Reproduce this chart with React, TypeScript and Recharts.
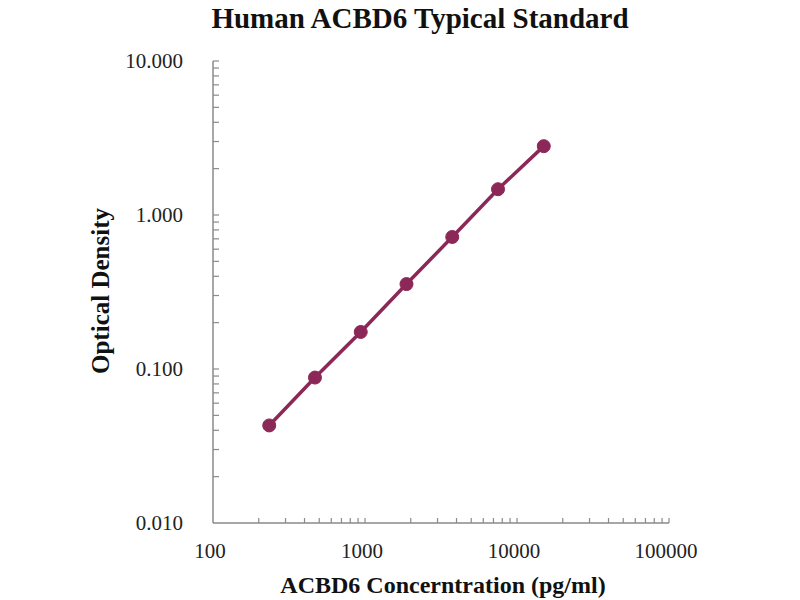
import { LineChart, Line, XAxis, YAxis } from "recharts";

const concentrations = [234.375, 468.75, 937.5, 1875, 3750, 7500, 15000];
const densities = [0.043, 0.088, 0.174, 0.356, 0.72, 1.47, 2.8];

const xTicks = [
  100, 200, 300, 400, 500, 600, 700, 800, 900,
  1000, 2000, 3000, 4000, 5000, 6000, 7000, 8000, 9000,
  10000, 20000, 30000, 40000, 50000, 60000, 70000, 80000, 90000,
  100000,
];
const xMajor = [100, 1000, 10000, 100000];

const yTicks = [
  0.01, 0.02, 0.03, 0.04, 0.05, 0.06, 0.07, 0.08, 0.09,
  0.1, 0.2, 0.3, 0.4, 0.5, 0.6, 0.7, 0.8, 0.9,
  1, 2, 3, 4, 5, 6, 7, 8, 9,
  10,
];
const yMajor = [0.01, 0.1, 1, 10];

const lineColor = "#8c2857";
const axisColor = "#8a8a8a";
const font = "'Liberation Serif', 'Times New Roman', serif";

const data = concentrations.map((c, i) => ({ conc: c, od: densities[i] }));

function XTick(props: any) {
  const { x, y, payload } = props;
  const major = xMajor.includes(payload.value);
  return (
    <g>
      {payload.value !== 100 && (
        <line x1={x} y1={y} x2={x} y2={y - 5} stroke={axisColor} strokeWidth={1.2} />
      )}
      {major && (
        <text x={x - 3} y={y + 35} textAnchor="middle" fontFamily={font} fontSize={21} fill="#222">
          {payload.value}
        </text>
      )}
    </g>
  );
}

function YTick(props: any) {
  const { x, y, payload } = props;
  const major = yMajor.includes(payload.value);
  return (
    <g>
      {payload.value !== 0.01 && (
        <line x1={x} y1={y} x2={x + 6} y2={y} stroke={axisColor} strokeWidth={1.2} />
      )}
      {major && (
        <text x={x - 30} y={y + 7} textAnchor="end" fontFamily={font} fontSize={21} fill="#222">
          {payload.value.toFixed(3)}
        </text>
      )}
    </g>
  );
}

export default function App() {
  return (
    <div style={{ position: "relative", width: 800, height: 600, margin: "-8px 0 0 -8px", background: "#fff" }}>
      <LineChart
        width={800}
        height={600}
        data={data}
        margin={{ top: 61, right: 131, left: 113, bottom: 37 }}
      >
        <text
          x={420}
          y={28}
          textAnchor="middle"
          fontFamily={font}
          fontWeight="bold"
          fontSize={29}
          fill="#111"
        >
          Human ACBD6 Typical Standard
        </text>
        <XAxis
          dataKey="conc"
          type="number"
          scale="log"
          domain={[100, 100000]}
          ticks={xTicks}
          interval={0}
          allowDataOverflow
          height={40}
          tickSize={0}
          tickMargin={0}
          tickLine={false}
          tick={<XTick />}
          stroke={axisColor}
          strokeWidth={1.5}
          label={({ viewBox }: any) => (
            <text
              x={viewBox.x + viewBox.width / 2 + 2}
              y={viewBox.y + 70}
              textAnchor="middle"
              fontFamily={font}
              fontWeight="bold"
              fontSize={24}
              fill="#111"
            >
              ACBD6 Concerntration (pg/ml)
            </text>
          )}
        />
        <YAxis
          type="number"
          scale="log"
          domain={[0.01, 10]}
          ticks={yTicks}
          interval={0}
          allowDataOverflow
          width={100}
          tickSize={0}
          tickMargin={0}
          tickLine={false}
          tick={<YTick />}
          stroke={axisColor}
          strokeWidth={1.5}
          label={({ viewBox }: any) => {
            const cx = viewBox.x - 4;
            const cy = viewBox.y + viewBox.height / 2 - 1;
            return (
              <text
                x={cx}
                y={cy}
                transform={`rotate(-90 ${cx} ${cy})`}
                textAnchor="middle"
                fontFamily={font}
                fontWeight="bold"
                fontSize={25}
                fill="#111"
              >
                Optical Density
              </text>
            );
          }}
        />
        <Line
          type="linear"
          dataKey="od"
          stroke={lineColor}
          strokeWidth={3.5}
          dot={{ r: 6.5, fill: lineColor, stroke: lineColor, strokeWidth: 1 }}
          isAnimationActive={false}
        />
      </LineChart>
    </div>
  );
}
